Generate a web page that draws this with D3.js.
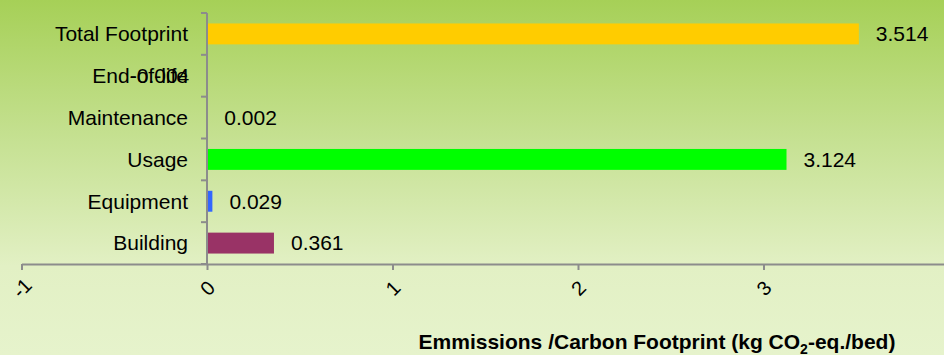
<!DOCTYPE html>
<html>
<head>
<meta charset="utf-8">
<script src="https://cdn.jsdelivr.net/npm/d3@7"></script>
<style>
  html, body { margin: 0; padding: 0; background: #e5f2ca; }
  svg { display: block; font-family: Arial, "Liberation Sans", sans-serif; }
</style>
</head>
<body>
<svg id="chart" width="944" height="355"></svg>
<script>
// Carbon footprint per bed, by life-cycle stage
const categories = ["Total Footprint", "End-of-life", "Maintenance", "Usage", "Equipment", "Building"];
const values = [3.514, -0.004, 0.002, 3.124, 0.029, 0.361];
const barColors = ["#ffcc00", "#cc3333", "#808080", "#00ff00", "#3366ff", "#993366"];
const xTicks = [-1, 0, 1, 2, 3, 4];
const xDomain = [-1, 4];

const W = 944, H = 355;
const svg = d3.select("#chart");

// background gradient
const defs = svg.append("defs");
const grad = defs.append("linearGradient")
  .attr("id", "bg").attr("x1", 0).attr("y1", 0).attr("x2", 0).attr("y2", 1);
grad.append("stop").attr("offset", "0%").attr("stop-color", "#a6d057");
grad.append("stop").attr("offset", "40%").attr("stop-color", "#c6e193");
grad.append("stop").attr("offset", "75%").attr("stop-color", "#e2f0c4");
grad.append("stop").attr("offset", "100%").attr("stop-color", "#e6f3cc");
svg.append("rect").attr("width", W).attr("height", H).attr("fill", "url(#bg)");

const x = d3.scaleLinear().domain(xDomain).range([21.5, 949]);
const y = d3.scaleBand().domain(categories).range([13, 264]);

const axisColor = "#8c8c8c";

// bars
const barH = y.bandwidth() * 0.5;
svg.append("g").selectAll("rect")
  .data(values)
  .join("rect")
  .attr("x", d => Math.min(x(0), x(d)))
  .attr("y", (d, i) => y(categories[i]) + (y.bandwidth() - barH) / 2)
  .attr("width", d => Math.abs(x(d) - x(0)))
  .attr("height", barH)
  .attr("fill", (d, i) => barColors[i]);

// x axis
const xAxis = svg.append("g")
  .attr("transform", `translate(0,${y.range()[1]})`)
  .call(d3.axisBottom(x).tickValues(xTicks).tickFormat(d => String(d)).tickSize(6).tickSizeOuter(0));
xAxis.select(".domain").attr("stroke", axisColor).attr("stroke-width", 2);
xAxis.selectAll(".tick line").attr("stroke", axisColor).attr("stroke-width", 2);
xAxis.selectAll(".tick text")
  .attr("y", 0).attr("dy", "0.35em")
  .attr("transform", "translate(0,24) rotate(-45)")
  .attr("text-anchor", "middle")
  .attr("fill", "#000")
  .style("font-size", "20px");

// y axis at x = 0
const yAxisG = svg.append("g").attr("transform", `translate(${x(0)},0)`);
yAxisG.append("line")
  .attr("x1", 0).attr("x2", 0)
  .attr("y1", y.range()[0]).attr("y2", y.range()[1])
  .attr("stroke", axisColor).attr("stroke-width", 2);
const bounds = categories.map(c => y(c)).concat([y.range()[1]]);
yAxisG.selectAll("line.tk")
  .data(bounds)
  .join("line")
  .attr("class", "tk")
  .attr("x1", -6).attr("x2", 0)
  .attr("y1", d => d).attr("y2", d => d)
  .attr("stroke", axisColor).attr("stroke-width", 2);

// category labels
svg.append("g").selectAll("text")
  .data(categories)
  .join("text")
  .attr("x", 188)
  .attr("y", d => y(d) + y.bandwidth() / 2)
  .attr("dy", "0.35em")
  .attr("text-anchor", "end")
  .attr("fill", "#000")
  .style("font-size", "21px")
  .text(d => d);

// value labels
svg.append("g").selectAll("text")
  .data(values)
  .join("text")
  .attr("x", d => d < 0 ? x(d) - 17 : x(d) + 17)
  .attr("y", (d, i) => y(categories[i]) + y.bandwidth() / 2)
  .attr("dy", "0.35em")
  .attr("text-anchor", d => d < 0 ? "end" : "start")
  .attr("fill", "#000")
  .style("font-size", "21px")
  .text(d => d.toFixed(3));

// axis title
const title = svg.append("text")
  .attr("x", 657).attr("y", 349)
  .attr("text-anchor", "middle")
  .attr("fill", "#000")
  .style("font-size", "21px")
  .style("font-weight", "bold");
title.append("tspan").text("Emmissions /Carbon Footprint (kg CO");
title.append("tspan").attr("dy", 5).style("font-size", "14px").text("2");
title.append("tspan").attr("dy", -5).text("-eq./bed)");
</script>
</body>
</html>
